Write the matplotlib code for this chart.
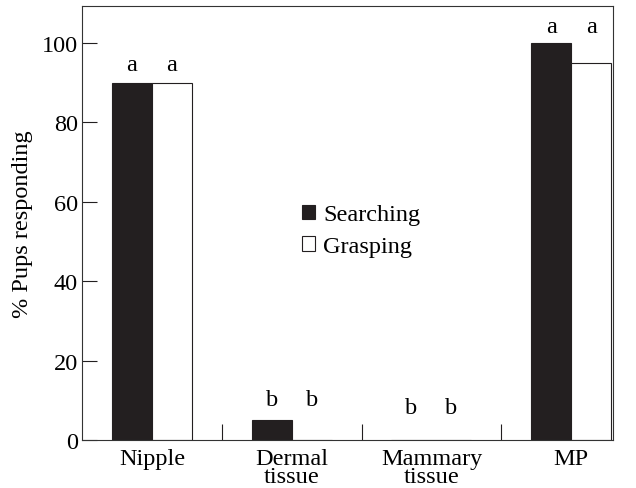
import numpy as np
import matplotlib.pyplot as plt

plt.rcParams['font.family'] = ['Liberation Serif', 'DejaVu Serif']

categories = ["Nipple", "Dermal\ntissue", "Mammary\ntissue", "MP"]
searching = [90, 5, 0, 100]
grasping = [90, 0, 0, 95]
# significance letters and the height they sit at
letters = ["a", "b", "b", "a"]
letter_y = [94.5, 10.3, 8.3, 104.0]

x = np.arange(len(categories))
w = 0.286
fs = 17.5

fig = plt.figure(figsize=(6.36, 4.89), dpi=100)
ax = fig.add_axes([0.129, 0.098, 0.835, 0.888])

ax.bar(x - w/2, searching, w, color='#231f20', edgecolor='#231f20', linewidth=0.8, label='Searching')
ax.bar(x + w/2, grasping, w, color='white', edgecolor='#231f20', linewidth=0.8, label='Grasping')

for i in range(len(categories)):
    ax.text(x[i] - w/2, letter_y[i], letters[i], ha='center', va='center', fontsize=fs)
    ax.text(x[i] + w/2, letter_y[i], letters[i], ha='center', va='center', fontsize=fs)

ax.set_xlim(-0.5, 3.3)
ax.set_ylim(0, 109.3)
ax.set_yticks([0, 20, 40, 60, 80, 100])
ax.set_xticks(x)
ax.set_xticklabels(categories, fontsize=fs, linespacing=0.8)
ax.set_xticks([0.5, 1.5, 2.5], minor=True)
ax.tick_params(axis='x', which='major', length=0, pad=6)
ax.tick_params(axis='x', which='minor', direction='in', length=11.5, width=0.8, color='#231f20')
ax.tick_params(axis='y', direction='in', length=11, width=0.8, labelsize=fs, color='#231f20', pad=3)
for s in ax.spines.values():
    s.set_linewidth(0.8)
    s.set_color('#333333')

ax.set_ylabel("% Pups responding", fontsize=fs, labelpad=6)

ax.legend(loc='upper left', bbox_to_anchor=(0.395, 0.565), frameon=False, fontsize=fs,
          handlelength=0.55, handleheight=0.55, handletextpad=0.35, labelspacing=0.45,
          borderaxespad=0)

fig.savefig("out.png", dpi=100)
